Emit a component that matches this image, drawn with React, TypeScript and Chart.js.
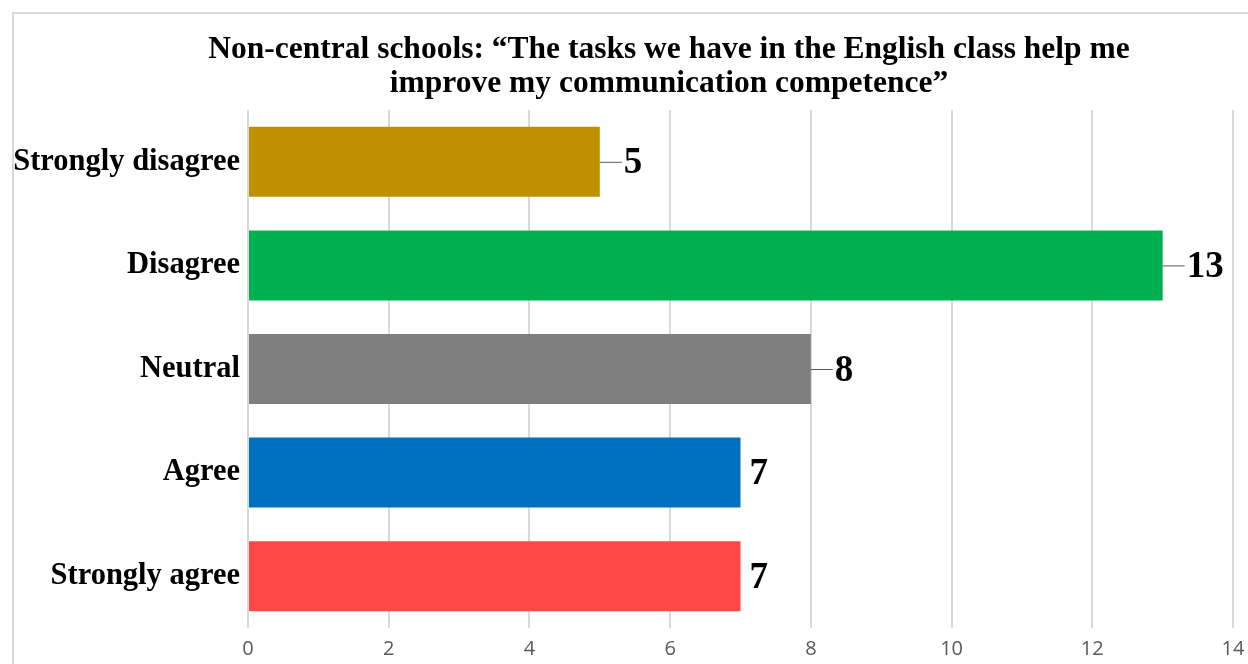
import React, { useEffect, useRef } from "react";
import { Chart, registerables } from "chart.js";

Chart.register(...registerables);

const categories = ["Strongly disagree", "Disagree", "Neutral", "Agree", "Strongly agree"];
const counts = [5, 13, 8, 7, 7];
const barColors = ["#BF9000", "#00B050", "#7F7F7F", "#0070C0", "#FF4747"];
const titleLines = [
  "Non-central schools: \u201cThe tasks we have in the English class help me",
  "improve my communication competence\u201d",
];
const labelLeaders = [true, true, true, false, false];

const framePlugin = {
  id: "frame",
  beforeDraw(chart: any) {
    const ctx = chart.ctx;
    ctx.save();
    ctx.fillStyle = "#ffffff";
    ctx.fillRect(0, 0, chart.width, chart.height);
    ctx.strokeStyle = "#d9d9d9";
    ctx.lineWidth = 2;
    ctx.strokeRect(13, 13, chart.width + 50, chart.height + 50);
    ctx.restore();
  },
  afterDraw(chart: any) {
    const ctx = chart.ctx;
    ctx.save();
    ctx.fillStyle = "#000000";
    ctx.font = "bold 31.5px 'Liberation Serif'";
    ctx.textAlign = "center";
    ctx.textBaseline = "middle";
    ctx.fillText(titleLines[0], 669, 50);
    ctx.fillText(titleLines[1], 669, 84);
    ctx.restore();
  },
};

const valueLabelPlugin = {
  id: "valueLabels",
  afterDatasetsDraw(chart: any) {
    const ctx = chart.ctx;
    const meta = chart.getDatasetMeta(0);
    ctx.save();
    ctx.font = "bold 37px 'Liberation Serif'";
    ctx.textBaseline = "middle";
    ctx.textAlign = "left";
    meta.data.forEach((bar: any, i: number) => {
      const x = bar.x;
      const y = bar.y;
      const leader = labelLeaders[i];
      const gap = leader ? 24 : 9;
      if (leader) {
        ctx.strokeStyle = "#595959";
        ctx.lineWidth = 1;
        ctx.beginPath();
        ctx.moveTo(x, y + 0.5);
        ctx.lineTo(x + gap - 2, y + 0.5);
        ctx.stroke();
      }
      ctx.fillStyle = "#000000";
      ctx.fillText(String(counts[i]), x + gap, y + 2);
    });
    ctx.restore();
  },
};

export default function App() {
  const ref = useRef<HTMLCanvasElement | null>(null);
  useEffect(() => {
    if (!ref.current) return;
    const chart = new Chart(ref.current, {
      type: "bar",
      data: {
        labels: categories,
        datasets: [
          {
            data: counts,
            backgroundColor: barColors,
            borderWidth: 0,
            categoryPercentage: 1,
            barPercentage: 0.676,
          },
        ],
      },
      options: {
        indexAxis: "y",
        animation: false,
        responsive: false,
        devicePixelRatio: 1,
        layout: { padding: { top: 110, right: 15, left: 0, bottom: 0 } },
        plugins: {
          legend: { display: false },
          title: { display: false },
          tooltip: { enabled: false },
        },
        scales: {
          x: {
            min: 0,
            max: 14,
            ticks: {
              stepSize: 2,
              color: "#595959",
              font: { family: "'Open Sans'", size: 20 },
              padding: 9,
            },
            grid: { color: "#d9d9d9", lineWidth: 2, drawTicks: false },
            border: { display: false },
            afterFit(scale: any) {
              scale.height = 36;
              scale.paddingLeft = 0;
              scale.paddingRight = 0;
            },
          },
          y: {
            ticks: {
              color: "#000000",
              font: { family: "'Liberation Serif'", size: 30.5, weight: "bold" },
              padding: 8,
            },
            grid: { display: false, drawTicks: false },
            border: { display: false },
            afterFit(scale: any) {
              scale.width = 248;
            },
          },
        },
      },
      plugins: [framePlugin, valueLabelPlugin],
    } as any);
    return () => chart.destroy();
  }, []);
  return (
    <div style={{ position: "fixed", left: 0, top: 0, width: 1248, height: 664, background: "#fff" }}>
      <canvas ref={ref} width={1248} height={664} style={{ display: "block" }} />
    </div>
  );
}
